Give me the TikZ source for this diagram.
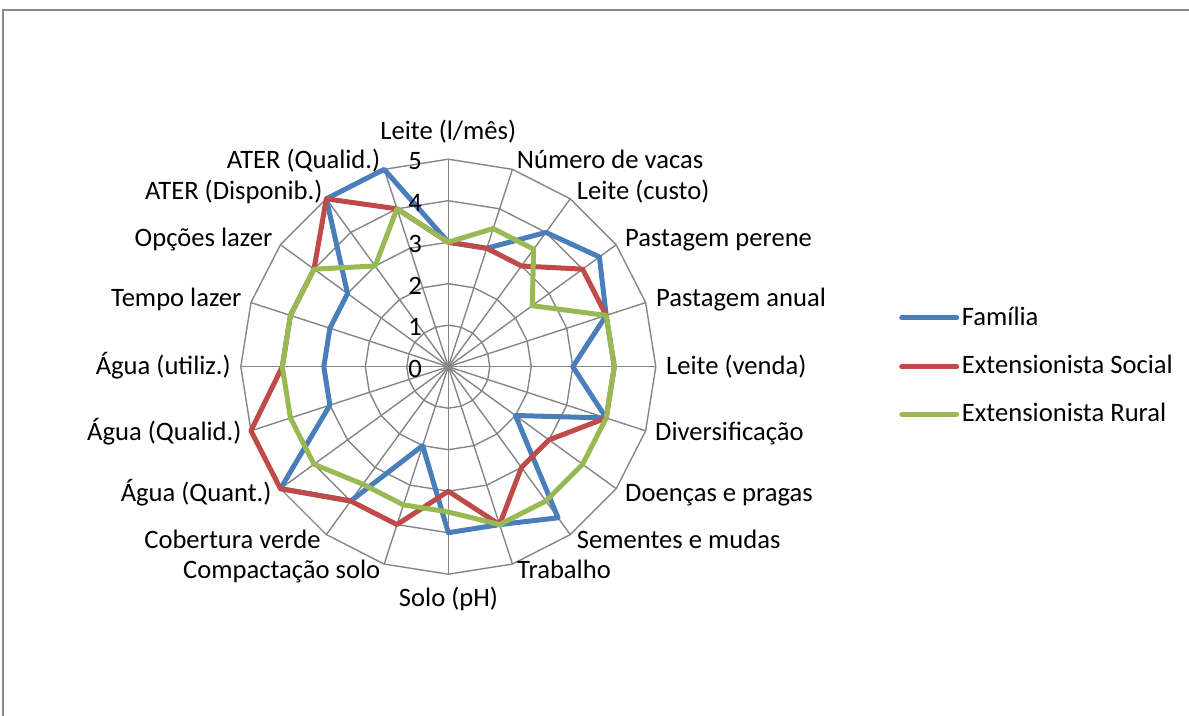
\documentclass[tikz,border=0pt]{standalone}
\usepackage{fontspec}
\setmainfont{Carlito}
\definecolor{famc}{HTML}{4A7EBB}
\definecolor{socc}{HTML}{BE4B48}
\definecolor{rurc}{HTML}{98B954}
\definecolor{gridc}{HTML}{868686}
\definecolor{framec}{HTML}{898989}
\begin{document}
\begin{tikzpicture}[x=1bp,y=-1bp,
  txt/.style={font=\fontsize{26.6bp}{31bp}\selectfont, inner sep=0pt, text=black},
  gridline/.style={draw=gridc, line width=1.4bp},
  series/.style={line width=5bp, line join=round},
  legline/.style={line width=5bp, line cap=round}]
\useasboundingbox (0,0) rectangle (1189,716);
\draw[framec, line width=1.5bp] (3,716) -- (3,10) -- (1189,10);
\begin{scope}[shift={(448.3,366.7)}, x=41.5bp, y=41.5bp]
  \foreach \k in {0,...,19} \draw[gridline] (0,0) -- ({90-18*\k}:5);
  \foreach \r in {1,...,5} \draw[gridline] (90:\r) \foreach \k in {1,...,19} {-- ({90-18*\k}:\r)} -- cycle;
  \foreach \v [count=\i from 0] in {3,3,4,4.5,4,3,4,2,4.5,4,4,2,4,5,3,3,3,3,5,5}
    \coordinate (f\i) at ({90-18*\i}:\v);
  \foreach \v [count=\i from 0] in {3,3,3,4,4,4,4,3,3,4,3,4,4,5,5,4,4,4,5,4}
    \coordinate (s\i) at ({90-18*\i}:\v);
  \foreach \v [count=\i from 0] in {3,3.5,3.5,2.5,4,4,4,4,4,4,3.5,3.5,3.5,4,4,4,4,4,3,4}
    \coordinate (r\i) at ({90-18*\i}:\v);
  \draw[series, famc] (f0) \foreach \i in {1,...,19} {-- (f\i)} -- cycle;
  \draw[series, socc] (s0) \foreach \i in {1,...,19} {-- (s\i)} -- cycle;
  \draw[series, rurc] (r0) \foreach \i in {1,...,19} {-- (r\i)} -- cycle;
  \foreach \r in {0,...,5}
    \node[txt, anchor=base east] (t\r) at (-0.634, {\r - 0.253}) {\r};
\end{scope}
% axis labels
\node[txt, anchor=base] (a0) at (448.3,140) {Leite (l/mês)};
\node[txt, anchor=base west] (a1) at (516.7,169) {Número de vacas};
\node[txt, anchor=base west] (a2) at (576.7,200) {Leite (custo)};
\node[txt, anchor=base west] (a3) at (625,246.7) {Pastagem perene};
\node[txt, anchor=base west] (a4) at (656,306.7) {Pastagem anual};
\node[txt, anchor=base west] (a5) at (666,374) {Leite (venda)};
\node[txt, anchor=base west] (a6) at (655,440.5) {Diversificação};
\node[txt, anchor=base west] (a7) at (625,501.7) {Doenças e pragas};
\node[txt, anchor=base west] (a8) at (576.7,548.3) {Sementes e mudas};
\node[txt, anchor=base west] (a9) at (517,578.3) {Trabalho};
\node[txt, anchor=base] (a10) at (448.5,606.7) {Solo (pH)};
\node[txt, anchor=base east] (a11) at (380.5,578.3) {Compactação solo};
\node[txt, anchor=base east] (a12) at (320.7,548.3) {Cobertura verde};
\node[txt, anchor=base east] (a13) at (271.7,501.7) {Água (Quant.)};
\node[txt, anchor=base east] (a14) at (241.7,440.5) {Água (Qualid.)};
\node[txt, anchor=base east] (a15) at (231,374) {Água (utiliz.)};
\node[txt, anchor=base east] (a16) at (241.7,306.7) {Tempo lazer};
\node[txt, anchor=base east] (a17) at (272.5,246.7) {Opções lazer};
\node[txt, anchor=base east] (a18) at (322.7,200) {ATER (Disponib.)};
\node[txt, anchor=base east] (a19) at (380.5,169) {ATER (Qualid.)};
% legend
\coordinate (la1) at (901.7,317.7); \coordinate (lb1) at (956.7,317.7);
\coordinate (la2) at (901.7,366.7); \coordinate (lb2) at (956.7,366.7);
\coordinate (la3) at (901.7,414.3); \coordinate (lb3) at (956.7,414.3);
\draw[legline, famc] (la1) -- (lb1);
\draw[legline, socc] (la2) -- (lb2);
\draw[legline, rurc] (la3) -- (lb3);
\node[txt, anchor=base west] (lf) at (961.7,325) {Família};
\node[txt, anchor=base west] (ls) at (961.7,373.3) {Extensionista Social};
\node[txt, anchor=base west] (lr) at (961.7,421.7) {Extensionista Rural};
\end{tikzpicture}
\end{document}
